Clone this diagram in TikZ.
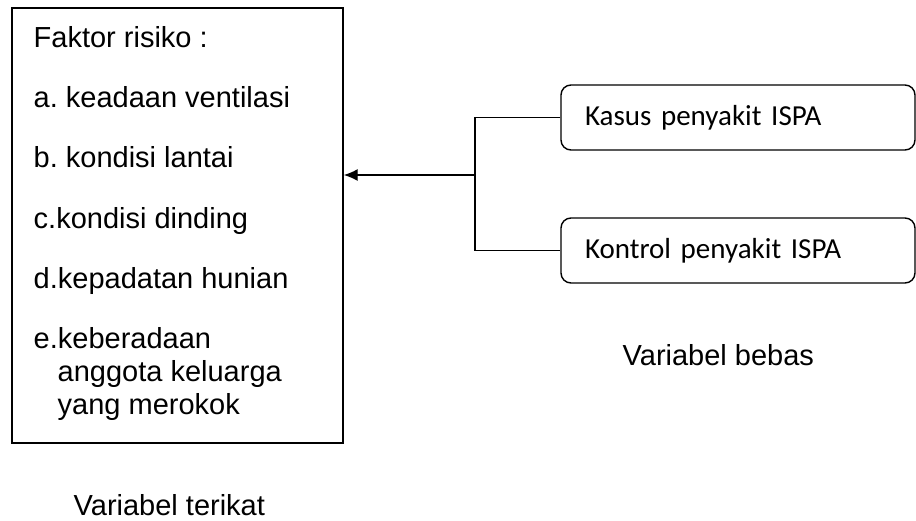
\documentclass[tikz,border=0pt]{standalone}
\usepackage{fontspec}
\setmainfont{Liberation Sans}
\newfontfamily\calibri{Carlito}
\usetikzlibrary{arrows.meta,positioning}
\frenchspacing

\begin{document}
\begin{tikzpicture}[x=1pt,y=-1pt,line width=1.4pt,
    item/.style={anchor=base west,inner sep=0pt,font=\fontsize{29}{33}\selectfont},
    var/.style={draw,rounded corners=10pt,minimum width=354pt,minimum height=65pt,
      text width=306pt,inner xsep=24pt,align=left,font=\calibri\fontsize{29}{33}\selectfont}]
  \useasboundingbox (0,0) rectangle (916,520);

  % variabel terikat
  \node[draw,minimum width=331pt,minimum height=435pt,inner sep=0pt] (faktor) at (177.5,225.5) {};
  \node[item] (judul) at (33,47) {Faktor risiko :};
  \node[item] (ventilasi) at (33,107) {a. keadaan ventilasi};
  \node[item] (lantai) at (33,167) {b. kondisi lantai};
  \node[item] (dinding) at (33,228) {c.kondisi dinding};
  \node[item] (hunian) at (33,288) {d.kepadatan hunian};
  \node[item] (rokok) at (33,348) {e.keberadaan};
  \node[item] (rokok2) at (57,381) {anggota keluarga};
  \node[item] (rokok3) at (57,414) {yang merokok};
  \node[item] (terikat) at (73,515) {Variabel terikat};

  % variabel bebas
  \node[var] (kasus) at (738,117.5) {Kasus penyakit ISPA};
  \node[var] (kontrol) at (738,250.5) {Kontrol penyakit ISPA};
  \node[item] (bebas) at (622,365) {Variabel bebas};

  \coordinate (cabang) at (475,175);
  \draw (kasus.west) -| (cabang) |- (kontrol.west);
  \draw[-{Latex[length=14pt,width=12pt]}] (cabang) -- (faktor.east |- cabang);
\end{tikzpicture}
\end{document}
